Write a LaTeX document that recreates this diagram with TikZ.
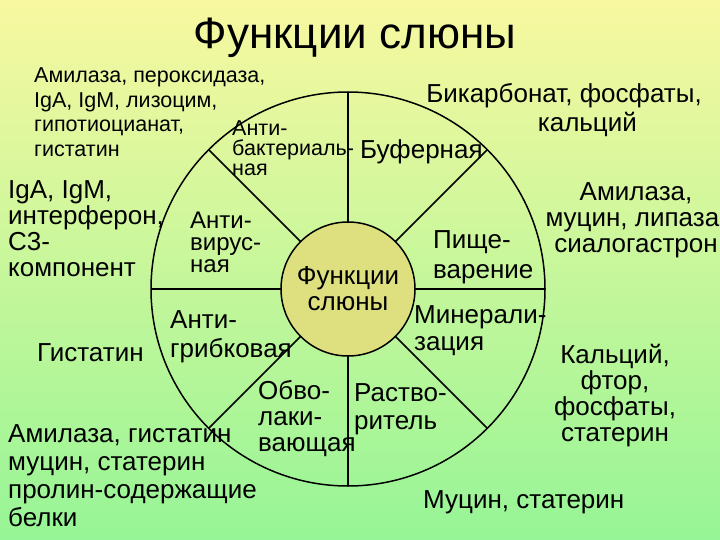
\documentclass[tikz,border=0pt]{standalone}
\usepackage{fontspec}
\setmainfont{Liberation Sans}
\usetikzlibrary{calc}
\definecolor{cfill}{RGB}{222,224,128}
\definecolor{bgtop}{RGB}{248,248,160}
\definecolor{bgbot}{RGB}{150,245,150}
\begin{document}
\begin{tikzpicture}[x=1pt,y=-1pt,
  txt/.style={inner sep=0pt,font=\fontsize{26}{26}\selectfont},
  sm/.style={inner sep=0pt,font=\fontsize{21.5}{20}\selectfont},
  spoke/.style={line width=1.5pt}]
\shade[top color=bgtop, bottom color=bgbot] (0,0) rectangle (720,540);
\useasboundingbox (0,0) rectangle (720,540);
\node[circle,draw,line width=1.5pt,minimum size=394pt] (outer) at (348,289) {};
\foreach \a in {0,45,...,315}
  \draw[spoke] ($(348,289)+(\a:67)$) -- ($(348,289)+(\a:197)$);
\node[circle,draw,line width=1.5pt,fill=cfill,minimum size=134pt,inner sep=0pt,
  font=\fontsize{26}{26}\selectfont,align=center] (c) at (348,289) {Функции\\слюны};
\node[font=\fontsize{44}{44}\selectfont] (title) at (355,38) {Функции слюны};
\node[sm,anchor=north west,align=left,font=\fontsize{21.5}{24.5}\selectfont] (t1) at (34,68) {Амилаза, пероксидаза,\\IgA, IgM, лизоцим,\\гипотиоцианат,\\гистатин};
\node[txt,anchor=north,align=center,font=\fontsize{26}{29}\selectfont] (t2) at (564,83) {Бикарбонат, фосфаты,\\\hspace*{1.8em}кальций};
\node[sm,anchor=north west,align=left] (l1) at (232,121) {Анти-\\бактериаль-\\ная};
\node[txt,anchor=north west] (l2) at (360,139) {Буферная};
\node[txt,anchor=north west,align=left] (t3) at (8,180) {IgA, IgM,\\интерферон,\\С3-\\компонент};
\node[sm,anchor=north west,align=left,font=\fontsize{24}{22}\selectfont] (l3) at (190,212) {Анти-\\вирус-\\ная};
\node[txt,anchor=north,align=center] (t4) at (636,182) {Амилаза,\\муцин, липаза,\\сиалогастрон};
\node[txt,anchor=north west,align=left,font=\fontsize{26}{30}\selectfont] (l4) at (433,230) {Пище-\\варение};
\node[txt,anchor=north west,align=left,font=\fontsize{26}{27}\selectfont] (l5) at (414,305) {Минерали-\\зация};
\node[txt,anchor=north west,align=left,font=\fontsize{26}{29}\selectfont] (l6) at (170,310) {Анти-\\грибковая};
\node[txt,anchor=north west] (t5) at (37,343) {Гистатин};
\node[txt,anchor=north,align=center] (t6) at (615,344) {Кальций,\\фтор,\\фосфаты,\\статерин};
\node[txt,anchor=north west,align=left] (l7) at (258,380) {Обво-\\лаки-\\вающая};
\node[txt,anchor=north west,align=left,font=\fontsize{26}{28}\selectfont] (l8) at (354,383) {Раство-\\ритель};
\node[txt,anchor=north west,align=left,font=\fontsize{26}{28}\selectfont] (t7) at (8,424) {Амилаза, гистатин\\муцин, статерин\\пролин-содержащие\\белки};
\node[txt,anchor=north west] (t8) at (423,490) {Муцин, статерин};
\end{tikzpicture}
\end{document}
